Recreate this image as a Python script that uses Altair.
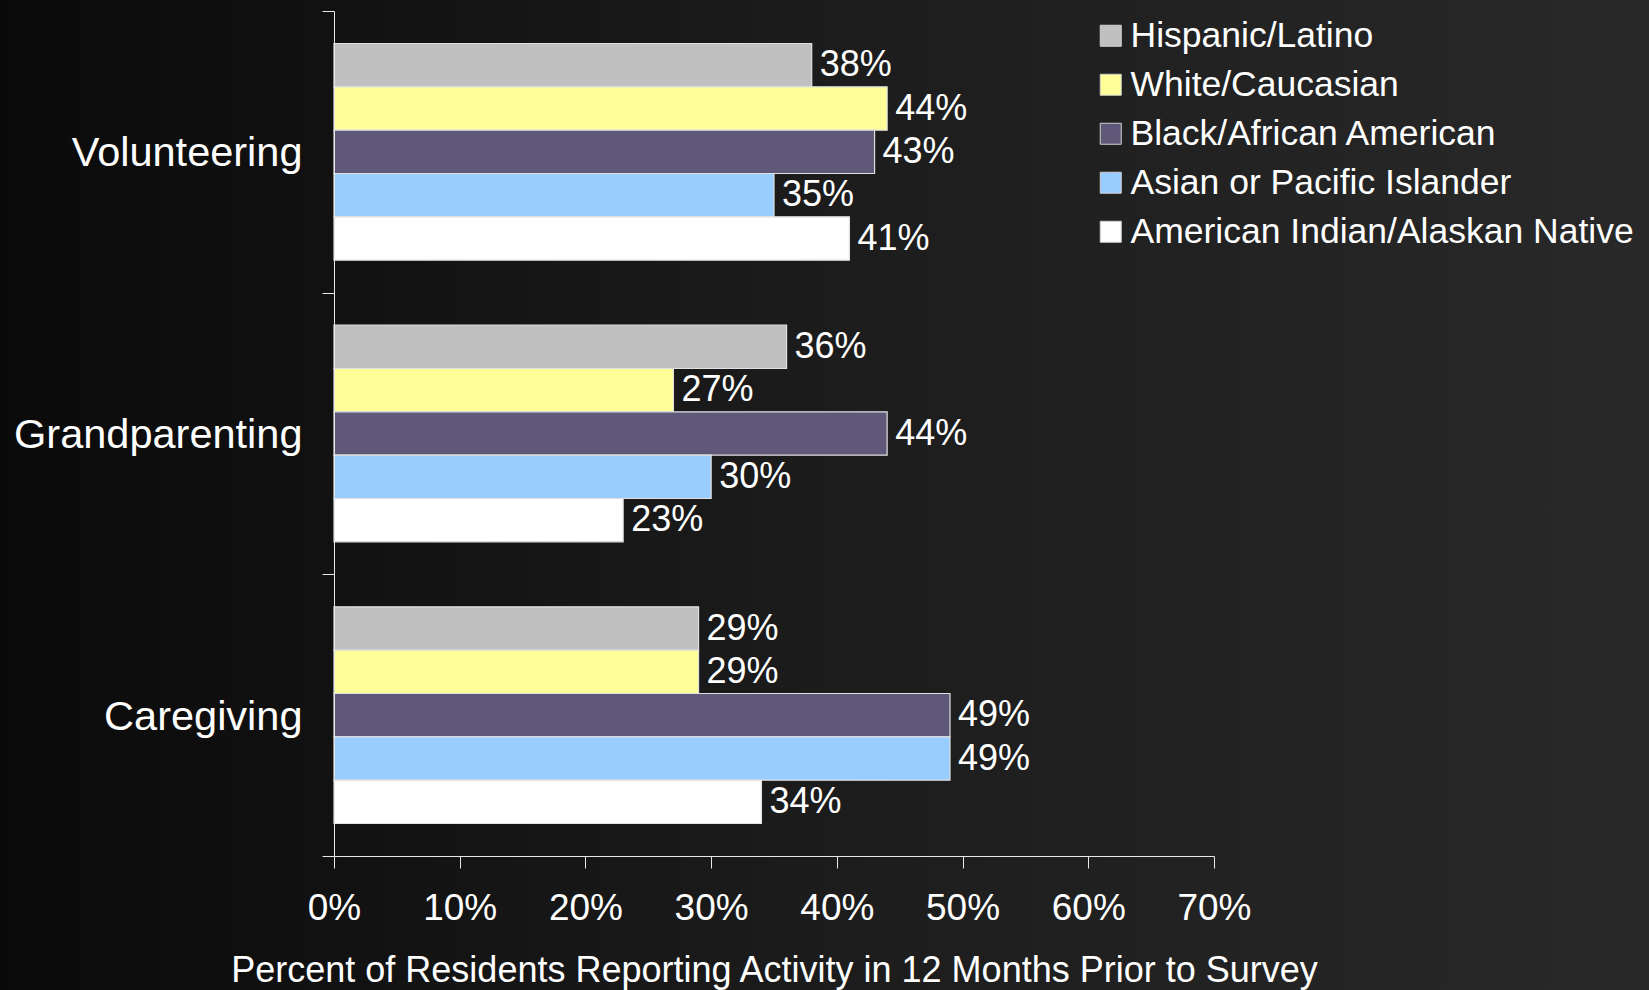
import altair as alt
import pandas as pd

categories = ["Volunteering", "Grandparenting", "Caregiving"]
groups = [
    "Hispanic/Latino",
    "White/Caucasian",
    "Black/African American",
    "Asian or Pacific Islander",
    "American Indian/Alaskan Native",
]
colors = ["#C0C0C0", "#FFFF99", "#605878", "#99CCFF", "#FFFFFF"]
volunteering = [38, 44, 43, 35, 41]
grandparenting = [36, 27, 44, 30, 23]
caregiving = [29, 29, 49, 49, 34]
x_ticks = [0, 10, 20, 30, 40, 50, 60, 70]

rows = []
for cat, vals in zip(categories, [volunteering, grandparenting, caregiving]):
    for g, v in zip(groups, vals):
        rows.append({"activity": cat, "group": g, "value": v, "label": f"{v}%"})
df = pd.DataFrame(rows)

FONT = "Liberation Sans"
W, H = 880, 845
LEFT, TOP = 334, 11
RIGHT = 1649 - LEFT - W
BOTTOM = 990 - TOP - H

bg = alt.Chart(pd.DataFrame({"a": [0]})).mark_rect(
    fill=alt.Gradient(
        gradient="linear",
        stops=[
            alt.GradientStop(color="#0a0a0a", offset=0),
            alt.GradientStop(color="#1c1c1c", offset=0.5),
            alt.GradientStop(color="#292929", offset=1),
        ],
        x1=0, x2=1, y1=0, y2=0,
    ),
    strokeWidth=0,
).encode(
    x=alt.value(-LEFT),
    x2=alt.value(1649 - LEFT),
    y=alt.value(-TOP),
    y2=alt.value(990 - TOP),
)

y_enc = alt.Y(
    "activity:N",
    sort=categories,
    scale=alt.Scale(paddingInner=0, paddingOuter=0),
    axis=alt.Axis(
        title=None,
        tickBand="extent",
        labelFontSize=41.5,
        labelFont=FONT,
        labelColor="white",
        labelOffset=2,
        domainColor="#e8e8e8",
        tickColor="#e8e8e8",
        tickSize=12,
        labelPadding=20,
        labelLimit=400,
        grid=False,
        zindex=1,
    ),
)
yoff = alt.YOffset("group:N", sort=groups, scale=alt.Scale(paddingInner=0, paddingOuter=0.75))
x_enc = alt.X(
    "value:Q",
    scale=alt.Scale(domain=[0, 70], nice=False),
    axis=alt.Axis(
        values=x_ticks,
        labelExpr="datum.value + '%'",
        title="Percent of Residents Reporting Activity in 12 Months Prior to Survey",
        titleFont=FONT,
        titleFontSize=36,
        titleFontWeight="normal",
        titleColor="white",
        titlePadding=27,
        labelFont=FONT,
        labelFontSize=37,
        labelColor="white",
        labelPadding=22,
        tickSize=12,
        domainColor="#e8e8e8",
        tickColor="#e8e8e8",
        grid=False,
        labelFlush=False,
        zindex=1,
    ),
)

bars = alt.Chart(df).mark_bar(stroke="#e0e0e0", strokeWidth=1.2).encode(
    x=x_enc,
    y=y_enc,
    yOffset=yoff,
    color=alt.Color(
        "group:N",
        sort=groups,
        scale=alt.Scale(domain=groups, range=colors),
        legend=alt.Legend(
            title=None,
            orient="none",
            legendX=759,
            legendY=7,
            symbolType="square",
            symbolSize=441,
            symbolStrokeColor="#d0d0d0",
            symbolStrokeWidth=1,
            labelFont=FONT,
            labelFontSize=35.5,
            labelColor="white",
            labelOffset=2,
            labelLimit=700,
            rowPadding=12,
            zindex=1,
        ),
    ),
)

labels = alt.Chart(df).mark_text(
    align="left", baseline="middle", dx=8, fontSize=36, font=FONT, color="white"
).encode(
    x=alt.X("value:Q"),
    y=alt.Y("activity:N", sort=categories),
    yOffset=alt.YOffset("group:N", sort=groups),
    text="label:N",
)

chart = (
    alt.layer(bg, bars, labels)
    .properties(
        width=W,
        height=H,
        padding={"left": LEFT, "top": TOP, "right": RIGHT, "bottom": BOTTOM},
        autosize=alt.AutoSizeParams(type="none"),
        background="#181818",
    )
    .configure_view(stroke=None)
)

chart.save("out.html", embed_options={"renderer": "svg", "actions": False})
